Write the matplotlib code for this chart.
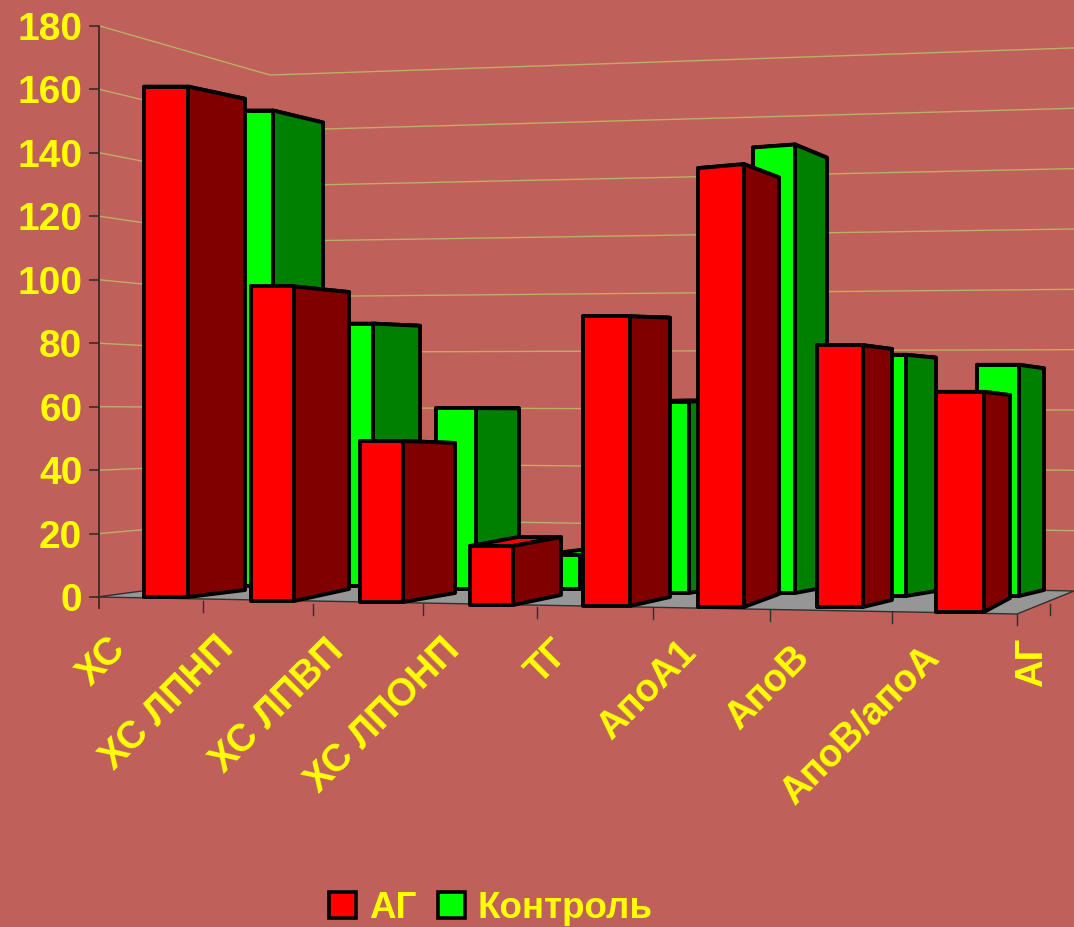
import matplotlib
matplotlib.use("Agg")
from matplotlib import pyplot as plt
from matplotlib.patches import Patch, Polygon

plt.rcParams['font.family'] = ['Liberation Sans', 'DejaVu Sans']

# Chart data
categories = ["ХС", "ХС ЛПНП", "ХС ЛПВП", "ХС ЛПОНП", "ТГ", "АпоА1", "АпоВ", "АпоВ/апоА", "АГ"]
ag_values = [160, 98, 50, 18, 87, 131, 77, 64]
control_values = [150, 82, 56, 11, 58, 135, 72, 68]
y_ticks = [0, 20, 40, 60, 80, 100, 120, 140, 160, 180]

# Colours
BACKGROUND = '#C0605A'
YELLOW = '#FFFF00'
GRID = '#BDAE62'
FLOOR = '#969696'

# Box geometry in pixels: front left, front right, side right, front base, side base,
# px per unit on the front face, px per unit at the back of the side, tilt of the top edge
ag_boxes = [
    (144, 188, 245, 597, 590, 3.19, 3.07, 0),
    (251, 294, 349, 601, 589, 3.21, 3.03, 0),
    (360, 403, 455, 602, 593, 3.22, 3.00, 0),
    (470, 513, 561, 605, 595, 3.28, 3.22, 0),
    (583, 630, 670, 606, 597, 3.33, 3.21, 0),
    (698, 744, 779, 607, 594, 3.35, 3.18, 4),
    (817, 863, 892, 607, 600, 3.40, 3.26, 0),
    (936, 984, 1010, 612, 598, 3.44, 3.17, 0),
]
control_boxes = [
    (230, 273, 323, 586, 580, 3.17, 3.05, 0),
    (330, 373, 420, 586, 580, 3.20, 3.10, 0),
    (436, 476, 519, 589, 582, 3.23, 3.10, 0),
    (540, 580, 620, 589, 583, 3.10, 3.00, 0),
    (645, 689, 730, 593, 586, 3.30, 3.20, 0),
    (753, 795, 827, 593, 587, 3.30, 3.18, 3),
    (862, 906, 936, 596, 591, 3.35, 3.24, 0),
    (977, 1019, 1044, 596, 590, 3.40, 3.26, 0),
]

# Category label centres and tick marks along the front floor edge
label_centres = [(102, 662), (168, 703), (278, 706), (383, 716), (548, 662),
                 (647, 690), (768, 688), (861, 726), (1032, 662)]
label_angles = [45, 45, 45, 45, 45, 45, 45, 45, 90]
floor_ticks = [(203, 601), (313, 604), (423, 604), (537, 607), (653, 608),
               (770, 610), (892, 612), (1017, 614), (1050, 604)]


def axis_y(value):
    return 597 - value * 3.172


def draw_box(ax, value, box, front_colour, side_colour):
    x0, x1, x2, base, side_base, scale, side_scale, tilt = box
    top = base - value * scale
    side_top = side_base - value * side_scale
    depth = x2 - x1

    top_face = [(x0, top), (x1, top - tilt), (x2, side_top), (x0 + depth, side_top)]
    front_face = [(x0, base), (x1, base), (x1, top - tilt), (x0, top)]
    side_face = [(x1, base), (x2, side_base), (x2, side_top), (x1, top - tilt)]

    for face, colour in ((top_face, front_colour), (side_face, side_colour), (front_face, front_colour)):
        ax.add_patch(Polygon(face, closed=True, facecolor=colour, edgecolor='black',
                             linewidth=2.8, joinstyle='round'))


fig = plt.figure(figsize=(10.74, 9.27), dpi=100, facecolor=BACKGROUND)
ax = fig.add_axes([0, 0, 1, 1])
ax.set_facecolor(BACKGROUND)
ax.set_xlim(0, 1074)
ax.set_ylim(927, 0)

# Walls: each gridline runs along the side wall, then along the back wall
for value in y_ticks[1:]:
    ax.plot([100, 270, 1074],
            [axis_y(value), 574 - value * 2.772, 591 - value * 3.017],
            color=GRID, linewidth=1.0, zorder=1)

# Floor
ax.add_patch(Polygon([(97, 597), (270, 574), (1074, 591), (1017, 614)], closed=True,
                     facecolor=FLOOR, edgecolor='#303030', linewidth=1.0, zorder=1))

for value, box in zip(control_values, control_boxes):
    draw_box(ax, value, box, '#00FF00', '#008000')
for value, box in zip(ag_values, ag_boxes):
    draw_box(ax, value, box, '#FF0000', '#800000')

# Value axis
for name in ('top', 'right', 'bottom'):
    ax.spines[name].set_visible(False)
ax.spines['left'].set_position(('data', 99))
ax.spines['left'].set_bounds(axis_y(180), 608)
ax.spines['left'].set_color('#402828')
ax.spines['left'].set_linewidth(1.3)
ax.set_xticks([])
ax.set_yticks([axis_y(v) for v in y_ticks])
ax.set_yticklabels([str(v) for v in y_ticks], fontsize=28, fontweight='bold', color=YELLOW)
ax.tick_params(axis='y', direction='out', length=7, width=1.2, color='#402828', pad=5)

for x, y in floor_ticks:
    ax.plot([x, x], [y, y + 11], color='#303030', linewidth=1.0, zorder=2)

for name, (x, y), angle in zip(categories, label_centres, label_angles):
    ax.text(x, y, name, rotation=angle, ha='center', va='center',
            fontsize=27.5, fontweight='bold', color=YELLOW)

handles = [Patch(facecolor='#FF0000', edgecolor='black', linewidth=2.6),
           Patch(facecolor='#00FF00', edgecolor='black', linewidth=2.6)]
legend = ax.legend(handles, ["АГ", "Контроль"], ncol=2, frameon=False,
                   loc='center', bbox_to_anchor=(491 / 1074, 1 - 908.5 / 927),
                   prop={'size': 26.5, 'weight': 'bold'}, labelcolor=YELLOW,
                   handlelength=0.73, handleheight=0.7, handletextpad=0.35,
                   columnspacing=0.6, borderpad=0)

fig.savefig("out.png", dpi=100, facecolor=BACKGROUND)
